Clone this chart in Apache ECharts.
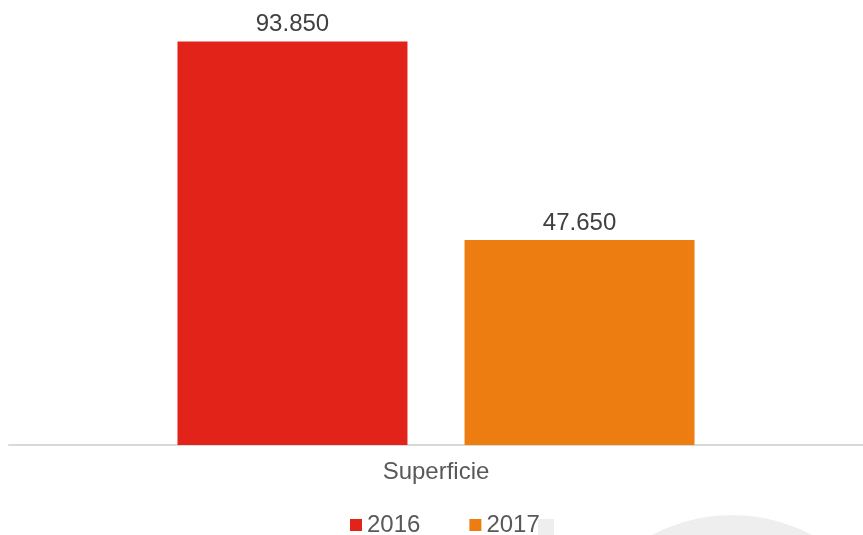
<!DOCTYPE html>
<html>
<head>
<meta charset="utf-8">
<script src="https://cdn.jsdelivr.net/npm/echarts@6/dist/echarts.min.js"></script>
<style>
html,body{margin:0;padding:0;background:#fff;}
#chart{width:863px;height:535px;}
</style>
</head>
<body>
<div id="chart"></div>
<script>
var categories = ['Superficie'];
var seriesNames = ['2016', '2017'];
var values2016 = [93850];
var values2017 = [47650];
var seriesColors = ['#E2231A', '#EE7D11'];

function fmt(v) {
  return String(v).replace(/\B(?=(\d{3})+(?!\d))/g, '.');
}

var chart = echarts.init(document.getElementById('chart'), null, {renderer: 'canvas'});
var labelStyle = {
  show: true,
  position: 'top',
  distance: 5,
  fontFamily: 'Liberation Sans',
  fontSize: 24,
  color: '#404040',
  formatter: function (p) { return fmt(p.value); }
};
chart.setOption({
  animation: false,
  backgroundColor: '#ffffff',
  textStyle: {fontFamily: 'Liberation Sans'},
  graphic: [
    {type: 'circle', shape: {cx: 732, cy: 685, r: 170}, style: {fill: '#eeeeee'}, z: -10, silent: true},
    {type: 'rect', shape: {x: 538, y: 519, width: 16, height: 16}, style: {fill: '#eeeeee'}, z: -10, silent: true}
  ],
  grid: {left: 9, right: 0, top: 15, bottom: 90, containLabel: false},
  legend: {
    left: 345,
    top: 508,
    padding: 5,
    itemWidth: 12,
    itemHeight: 12,
    itemGap: 49,
    icon: 'rect',
    textStyle: {fontFamily: 'Liberation Sans', fontSize: 24, color: '#595959', lineHeight: 24},
    data: seriesNames
  },
  xAxis: {
    type: 'category',
    data: categories,
    axisLine: {show: true, lineStyle: {color: '#d9d9d9', width: 2}},
    axisTick: {show: false},
    axisLabel: {fontFamily: 'Liberation Sans', fontSize: 24, color: '#595959', margin: 15}
  },
  yAxis: {
    type: 'value',
    min: 0,
    max: 100000,
    show: false,
    splitLine: {show: false}
  },
  series: [
    {
      name: seriesNames[0],
      type: 'bar',
      data: values2016,
      barWidth: 230,
      barGap: '24.8%',
      itemStyle: {color: seriesColors[0]},
      label: labelStyle
    },
    {
      name: seriesNames[1],
      type: 'bar',
      data: values2017,
      barWidth: 230,
      barGap: '24.8%',
      itemStyle: {color: seriesColors[1]},
      label: labelStyle
    }
  ]
});
</script>
</body>
</html>
